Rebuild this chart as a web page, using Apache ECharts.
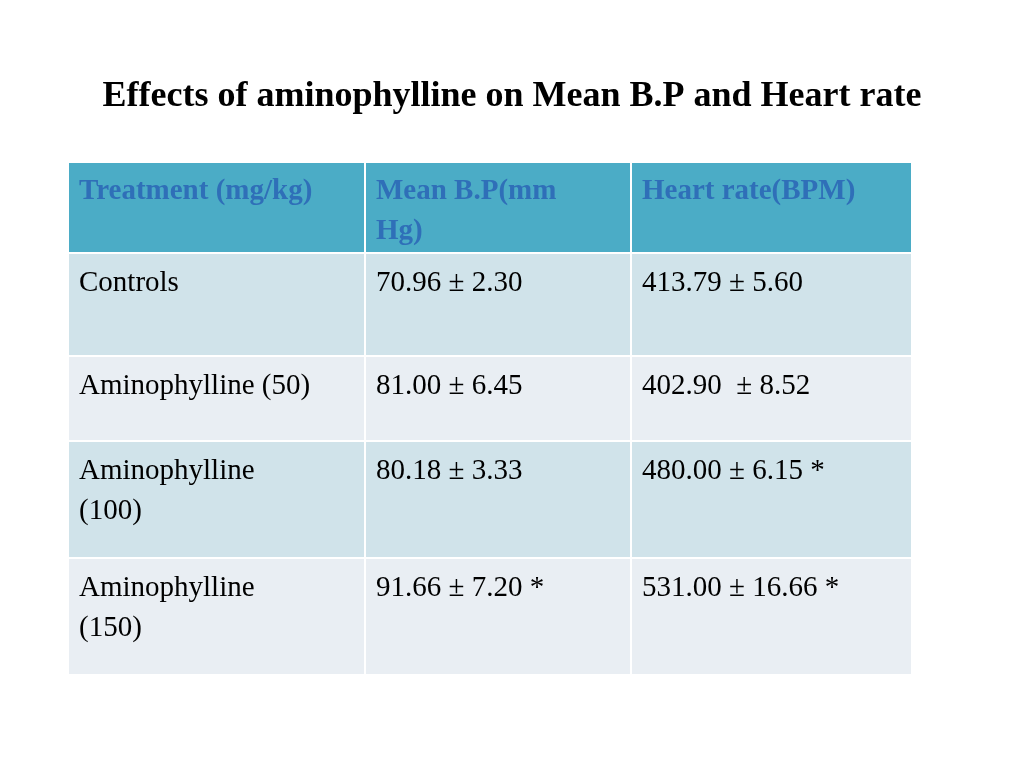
<!DOCTYPE html>
<html>
<head>
<meta charset="utf-8">
<script src="https://cdn.jsdelivr.net/npm/echarts@6/dist/echarts.min.js"></script>
<style>
  html, body { margin: 0; padding: 0; background: #fff; }
  #main { width: 1024px; height: 768px; }
</style>
</head>
<body>
<div id="main"></div>
<script>
const headers = ['Treatment (mg/kg)', 'Mean B.P(mm\nHg)', 'Heart rate(BPM)'];
const treatments = ['Controls', 'Aminophylline (50)', 'Aminophylline\n(100)', 'Aminophylline\n(150)'];
const meanBP = ['70.96 ± 2.30', '81.00 ± 6.45', '80.18 ± 3.33', '91.66 ± 7.20 *'];
const heartRate = ['413.79 ± 5.60', '402.90  ± 8.52', '480.00 ± 6.15 *', '531.00 ± 16.66 *'];

// table layout in axis units
const colEdges = [0, 297, 563, 844];
const rowEdges = [0, 91, 194, 279, 396, 513];

const cells = [];
headers.forEach((h, c) => cells.push([c, 0, h]));
[treatments, meanBP, heartRate].forEach((col, c) => {
    col.forEach((v, r) => cells.push([c, r + 1, v]));
});

const fills = ['#4bacc6', '#d0e3ea', '#e9eef3', '#d0e3ea', '#e9eef3'];

const option = {
    title: {
        text: 'Effects of aminophylline on Mean B.P and Heart rate',
        left: 'center',
        top: 74,
        textStyle: { fontFamily: 'Liberation Serif', fontWeight: 'bold', fontSize: 36, color: '#000' }
    },
    grid: { left: 68, top: 162, width: 844, height: 513 },
    xAxis: { type: 'value', min: 0, max: 844, show: false },
    yAxis: { type: 'value', min: 0, max: 513, inverse: true, show: false },
    series: [{
        type: 'custom',
        data: cells,
        renderItem(params, api) {
            const c = api.value(0), r = api.value(1);
            const p0 = api.coord([colEdges[c], rowEdges[r]]);
            const p1 = api.coord([colEdges[c + 1], rowEdges[r + 1]]);
            const header = r === 0;
            return {
                type: 'group',
                children: [{
                    type: 'rect',
                    shape: { x: p0[0], y: p0[1], width: p1[0] - p0[0], height: p1[1] - p0[1] },
                    style: { fill: fills[r], stroke: '#fff', lineWidth: 2 }
                }, {
                    type: 'text',
                    x: p0[0] + 11,
                    y: p0[1] + 10,
                    style: {
                        text: cells[params.dataIndex][2],
                        fontFamily: 'Liberation Serif',
                        fontSize: 29,
                        lineHeight: 40,
                        fontWeight: header ? 'bold' : 'normal',
                        fill: header ? '#2f6fb8' : '#000'
                    }
                }]
            };
        }
    }]
};

echarts.init(document.getElementById('main')).setOption(option);
</script>
</body>
</html>
